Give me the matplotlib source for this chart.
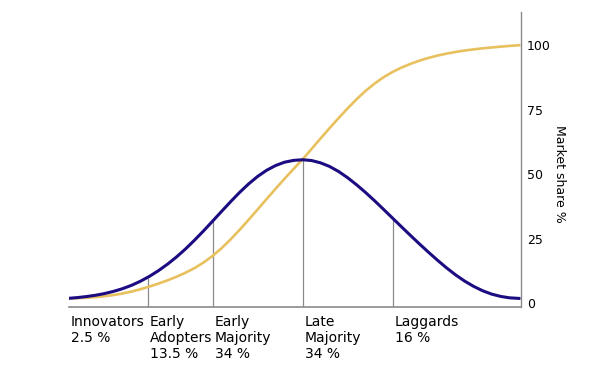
import matplotlib
matplotlib.use("Agg")
import matplotlib.pyplot as plt
from matplotlib.transforms import blended_transform_factory

# Adoption time (in standard deviations from the mean)
x_pos = [-2.6, -2.5, -2.4, -2.3, -2.2, -2.1, -2.0, -1.9, -1.8, -1.7, -1.6, -1.5, -1.4,
         -1.3, -1.2, -1.1, -1.0, -0.9, -0.8, -0.7, -0.6, -0.5, -0.4, -0.3, -0.2, -0.1,
         0.0, 0.1, 0.2, 0.3, 0.4, 0.5, 0.6, 0.7, 0.8, 0.9, 1.0, 1.1, 1.2, 1.3, 1.4,
         1.5, 1.6, 1.7, 1.8, 1.9, 2.0, 2.1, 2.2, 2.3, 2.42]
# Bell curve (adopters)
adopters = [1.8, 2.1, 2.5, 3.0, 3.65, 4.5, 5.55, 6.85, 8.45, 10.35, 12.55, 15.05, 17.85,
            20.95, 24.35, 27.95, 31.7, 35.5, 39.25, 42.85, 46.15, 49.05, 51.45, 53.3, 54.6, 55.3,
            55.55, 55.25, 54.35, 52.95, 51.0, 48.6, 45.85, 42.85, 39.65, 36.3, 32.9, 29.5, 26.15,
            22.85, 19.65, 16.55, 13.6, 10.9, 8.5, 6.45, 4.75, 3.45, 2.55, 2.0, 1.75]
# S-curve (cumulative market share %)
market_share = [1.8, 1.88, 2.03, 2.28, 2.63, 3.08, 3.68, 4.43, 5.33, 6.38, 7.53, 8.78, 10.18,
                11.73, 13.53, 15.68, 18.23, 21.23, 24.63, 28.33, 32.23, 36.23, 40.28, 44.28, 48.18, 51.98,
                55.7, 59.72, 63.8, 67.8, 71.7, 75.45, 79.0, 82.25, 85.1, 87.55, 89.6, 91.3, 92.75,
                94.0, 95.05, 95.95, 96.7, 97.35, 97.9, 98.35, 98.75, 99.1, 99.4, 99.7, 100.0]

categories = ["Innovators", "Early\nAdopters", "Early\nMajority", "Late\nMajority", "Laggards"]
shares = ["2.5 %", "13.5 %", "34 %", "34 %", "16 %"]
cat_start = [-2.594, -1.72, -1.0, 0.0, 1.0]
divider_x = [-1.72, -1.0, 0.0, 1.0]
divider_top = [9.6, 31.7, 55.5, 32.9]

y_ticks = [0, 25, 50, 75, 100]

fig = plt.figure(figsize=(6.0, 3.67), dpi=100)
ax = fig.add_axes([0.115, 0.1635, 0.753, 0.8035])

ymin, ymax = -1.55, 112.8
ax.set_xlim(-2.594, 2.424)
ax.set_ylim(ymin, ymax)

grey = "#8a8a8a"
ax.vlines(divider_x, ymin, divider_top, color=grey, lw=0.9, zorder=1)

ax.plot(x_pos, market_share, color="#e8c15e", lw=1.9, zorder=2,
        solid_joinstyle="round", solid_capstyle="butt")
ax.plot(x_pos, adopters, color="#1b0c82", lw=2.2, zorder=3,
        solid_joinstyle="round", solid_capstyle="butt")

for s in ["left", "top"]:
    ax.spines[s].set_visible(False)
ax.spines["bottom"].set_color(grey)
ax.spines["bottom"].set_linewidth(1.2)
ax.spines["right"].set_color(grey)
ax.spines["right"].set_linewidth(1.0)

ax.set_xticks([])
ax.yaxis.tick_right()
ax.set_yticks(y_ticks)
ax.set_yticklabels([str(v) for v in y_ticks])
ax.tick_params(axis="y", length=0, pad=4.5, labelsize=9)

trans = blended_transform_factory(ax.transAxes, ax.transData)
ax.text(1.085, 50, "Market share %", rotation=-90, transform=trans,
        ha="center", va="center", fontsize=9)

ttrans = blended_transform_factory(ax.transData, ax.transAxes)
for xs, name, share in zip(cat_start, categories, shares):
    ax.annotate(name + "\n" + share, xy=(xs, 0), xycoords=ttrans,
                xytext=(1.5, -5.5), textcoords="offset points",
                ha="left", va="top", fontsize=10, linespacing=1.2,
                annotation_clip=False)

fig.savefig("out.png", dpi=100, facecolor="white")
